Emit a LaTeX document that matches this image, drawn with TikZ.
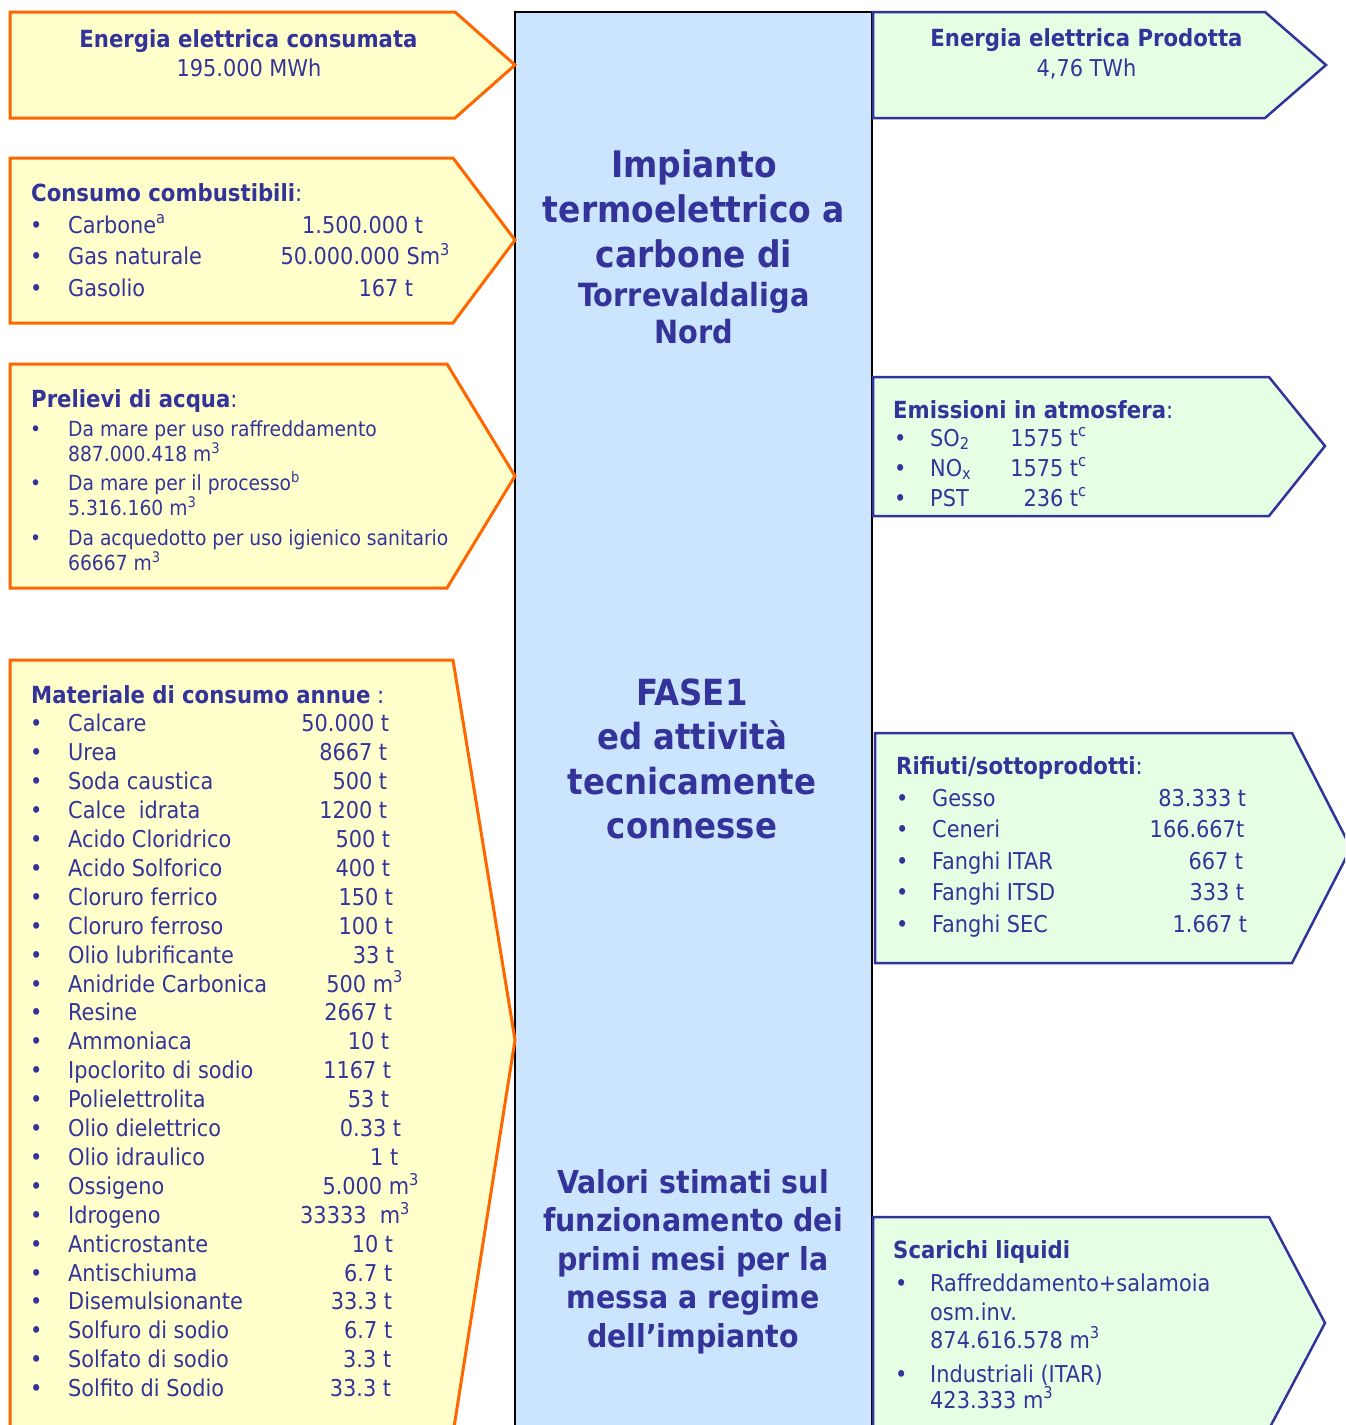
\documentclass[tikz,border=0pt]{standalone}
\usepackage{fontspec}
\setmainfont{DejaVu Sans Condensed}
\definecolor{tvblue}{RGB}{51,51,153}
\definecolor{tvyellow}{RGB}{255,255,204}
\definecolor{tvorange}{RGB}{255,102,0}
\definecolor{tvgreen}{RGB}{229,255,229}
\definecolor{tvsky}{RGB}{204,229,255}
\newcommand\mcube{m\rlap{\textsuperscript{3}}}
\tikzset{
  tvin/.style={draw=tvorange, fill=tvyellow, line width=3pt},
  tvout/.style={draw=tvblue, fill=tvgreen, line width=2.5pt},
  tvplant/.style={draw=black, fill=tvsky, line width=2pt},
  tvhead/.style={anchor=base west, inner sep=0pt, text=tvblue, font=\fontsize{23.6}{28}\selectfont\bfseries},
  tvitem/.style={anchor=base west, inner sep=0pt, text=tvblue, font=\fontsize{23.2}{28}\selectfont},
  tvsmall/.style={tvitem, font=\fontsize{20.8}{25}\selectfont},
  tvtitle/.style={anchor=base, inner sep=0pt, text=tvblue, font=\fontsize{36.6}{44}\selectfont\bfseries}
}
\begin{document}
\begin{tikzpicture}[x=1pt,y=-1pt]
\useasboundingbox (0,0) rectangle (1345,1425);
\clip (0,0) rectangle (1345,1425);
\draw[tvplant] (515,1440) -- (515,12) -- (872,12) -- (872,1440);
\draw[tvin] (10,12) -- (455,12) -- (515,65) -- (455,118) -- (10,118) -- cycle;
\draw[tvin] (10,158) -- (453,158) -- (515,240) -- (453,323) -- (10,323) -- cycle;
\draw[tvin] (10,364) -- (447,364) -- (515,476) -- (447,588) -- (10,588) -- cycle;
\draw[tvin] (10,660) -- (453,660) -- (515,1040) -- (452,1440) -- (10,1440) -- cycle;
\draw[tvout] (873,12) -- (1265,12) -- (1326,65) -- (1265,118) -- (873,118) -- cycle;
\draw[tvout] (873,377) -- (1269,377) -- (1325,446) -- (1269,516) -- (873,516) -- cycle;
\draw[tvout] (875,733) -- (1292,733) -- (1351,848) -- (1292,963) -- (875,963) -- cycle;
\draw[tvout] (873,1217) -- (1269,1217) -- (1325,1323) -- (1269,1429) -- (873,1429) -- cycle;

\node[tvhead, anchor=base] (einhead) at (248.5,47) {Energia elettrica consumata};
\node[tvitem, anchor=base] (einval) at (249,76) {195.000 MWh};
\node[tvhead, anchor=base] (eouthead) at (1086.5,46) {Energia elettrica Prodotta};
\node[tvitem, anchor=base] (eoutval) at (1086.5,76) {4,76 TWh};

\node[tvhead] (fuelhead) at (31,201) {Consumo combustibili\mdseries:};
\foreach \lbl/\val/\w [count=\i] in {Carbone\textsuperscript{a}/1.500.000 t/355, Gas naturale/50.000.000 S\mcube/372, Gasolio/167 t/345} {
  \node[tvitem] (fuelb\i) at (30,201.5+31.5*\i) {\textbullet};
  \node[tvitem] (fuel\i) at (68,201.5+31.5*\i) {\makebox[\w pt][l]{\lbl\hfill\val}};
}

\node[tvhead] (waterhead) at (31,407) {Prelievi di acqua\mdseries:};
\foreach \first/\second [count=\i] in {Da mare per uso raffreddamento/887.000.418 \mcube, Da mare per il processo\textsuperscript{b}/5.316.160 \mcube, Da acquedotto per uso igienico sanitario/66667 \mcube} {
  \node[tvsmall] (waterb\i) at (30,381.5+54.5*\i) {\textbullet};
  \node[tvsmall] (water\i) at (68,381.5+54.5*\i) {\first};
  \node[tvsmall] (waterv\i) at (68,406.5+54.5*\i) {\second};
}

\node[tvhead] (mathead) at (31,703) {Materiale di consumo annue\mdseries\ :};
\foreach \lbl/\val/\w [count=\i] in {Calcare/50.000 t/321, Urea/8667 t/319, Soda caustica/500 t/319, Calce\ \ idrata/1200 t/319, Acido Cloridrico/500 t/322, Acido Solforico/400 t/322, Cloruro ferrico/150 t/325, Cloruro ferroso/100 t/325, Olio lubrificante/33 t/326, Anidride Carbonica/500 \mcube/325, Resine/2667 t/324, Ammoniaca/10 t/321, Ipoclorito di sodio/1167 t/323, Polielettrolita/53 t/321, Olio dielettrico/0.33 t/333, Olio idraulico/1 t/330, Ossigeno/5.000 \mcube/341, Idrogeno/33333\ \ \mcube/332, Anticrostante/10 t/325, Antischiuma/6.7 t/324, Disemulsionante/33.3 t/324, Solfuro di sodio/6.7 t/324, Solfato di sodio/3.3 t/323, Solfito di Sodio/33.3 t/323} {
  \node[tvitem] (matb\i) at (30,703+28.9*\i) {\textbullet};
  \node[tvitem] (mat\i) at (68,703+28.9*\i) {\makebox[\w pt][l]{\lbl\hfill\val}};
}

\foreach \txt [count=\i] in {Impianto, termoelettrico a, carbone di}
  \node[tvtitle] (plant\i) at (694,132+45*\i) {\txt};
\foreach \txt [count=\i] in {Torrevaldaliga, Nord}
  \node[tvtitle, font=\fontsize{32}{38}\selectfont\bfseries] (site\i) at (694,269+37*\i) {\txt};
\foreach \txt [count=\i] in {FASE1, ed attività, tecnicamente, connesse}
  \node[tvtitle, font=\fontsize{36}{44}\selectfont\bfseries] (phase\i) at (692,660.5+44.5*\i) {\txt};
\foreach \txt [count=\i] in {Valori stimati sul, funzionamento dei, primi mesi per la, messa a regime, dell’impianto}
  \node[tvtitle, font=\fontsize{31.6}{38}\selectfont\bfseries] (note\i) at (693,1154.5+38.5*\i) {\txt};

\node[tvhead] (emihead) at (893,418) {Emissioni in atmosfera\mdseries:};
\foreach \lbl/\val [count=\i] in {SO\textsubscript{2}/1575 t, NO\textsubscript{x}/1575 t, PST/236 t} {
  \node[tvitem] (emib\i) at (894,416+30*\i) {\textbullet};
  \node[tvitem] (emi\i) at (930,416+30*\i) {\makebox[148pt][l]{\lbl\hfill\val}\rlap{\textsuperscript{c}}};
}

\node[tvhead] (wastehead) at (896,774) {Rifiuti/sottoprodotti\mdseries:};
\foreach \lbl/\val/\w [count=\i] in {Gesso/83.333 t/314, Ceneri/166.667t/312, Fanghi ITAR/667 t/311, Fanghi ITSD/333 t/312, Fanghi SEC/1.667 t/315} {
  \node[tvitem] (wasteb\i) at (896,774.4+31.6*\i) {\textbullet};
  \node[tvitem] (waste\i) at (932,774.4+31.6*\i) {\makebox[\w pt][l]{\lbl\hfill\val}};
}

\node[tvhead] (liqhead) at (893,1258) {Scarichi liquidi};
\node[tvitem] (liqb1) at (895,1291) {\textbullet};
\node[tvitem] (liq1) at (930,1291) {Raffreddamento+salamoia};
\node[tvitem] (liq1b) at (930,1320) {osm.inv.};
\node[tvitem] (liq1c) at (930,1348) {874.616.578 \mcube};
\node[tvitem] (liqb2) at (895,1382) {\textbullet};
\node[tvitem] (liq2) at (930,1382) {Industriali (ITAR)};
\node[tvitem] (liq2b) at (930,1408) {423.333 \mcube};
\end{tikzpicture}
\end{document}
